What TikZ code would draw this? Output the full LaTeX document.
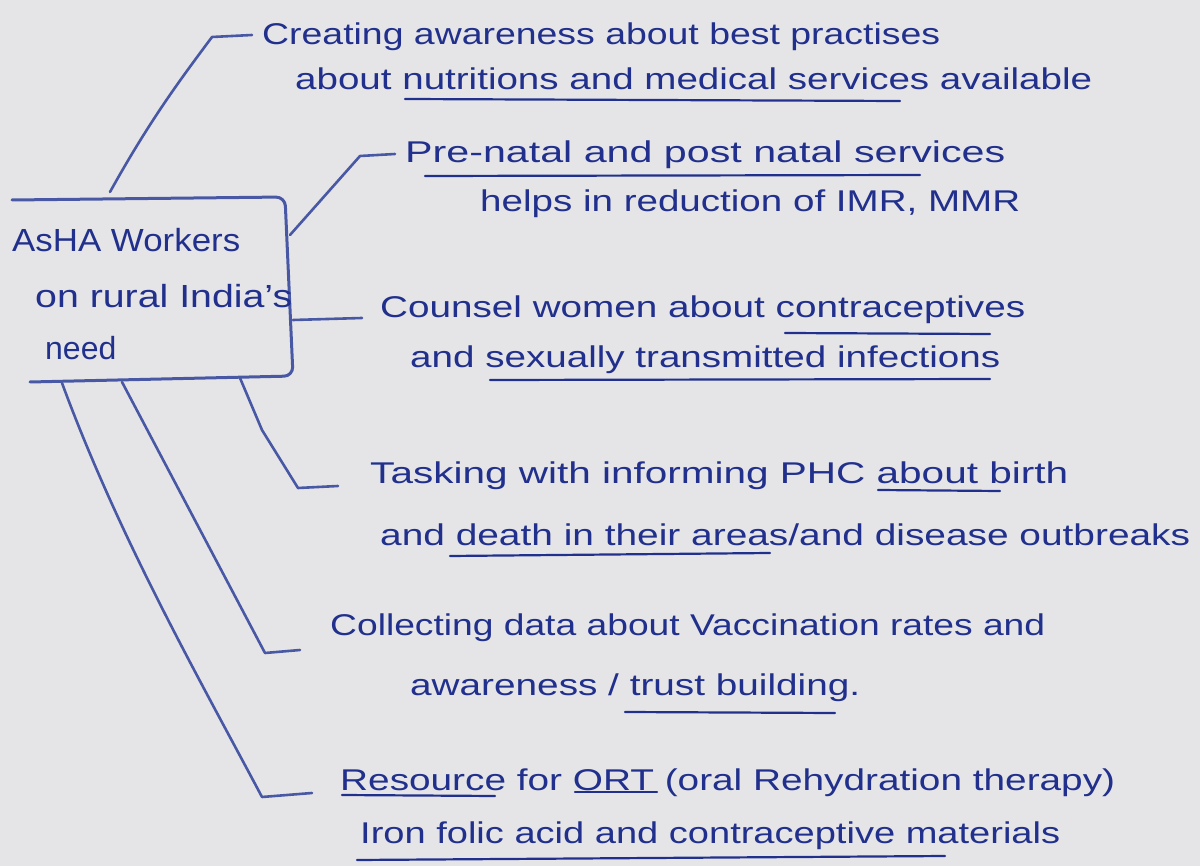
\documentclass[tikz,border=0pt]{standalone}
\usepackage{fontspec}
\setmainfont{Liberation Sans}
\usepackage{graphicx}
\definecolor{paper}{RGB}{229,229,231}
\definecolor{ink}{RGB}{33,48,140}
\definecolor{pen}{RGB}{72,88,165}
\newcommand{\fitw}[2]{\resizebox{#1}{\height}{#2}}
\tikzset{
  txt/.style={anchor=base west, inner sep=0pt, text=ink, font=\fontsize{30}{34}\selectfont},
  boxtxt/.style={txt, font=\fontsize{32}{36}\selectfont},
  link/.style={draw=pen, line width=2.6pt, line cap=round, line join=round},
  uline/.style={draw=ink, line width=2.2pt, line cap=round},
  boxline/.style={draw=pen, line width=3pt, line cap=round, line join=round, rounded corners=9pt}
}
\begin{document}
\begin{tikzpicture}[x=1pt,y=-1pt]
\useasboundingbox (0,0) rectangle (1200,866);
\fill[paper] (0,0) rectangle (1200,866);

% central box (open on the left)
\draw[boxline] (12,200) -- (285,197) -- (293,376) -- (30,382);
\node[boxtxt] (b1) at (12,252) {\fitw{228pt}{AsHA Workers}};
\node[boxtxt] (b2) at (35,308) {\fitw{257pt}{on rural India's}};
\node[boxtxt] (b3) at (45,360) {need};

% text lines
\node[txt] (t1a) at (262,45) {\fitw{678pt}{Creating awareness about best practises}};
\node[txt] (t1b) at (295,90) {\fitw{797pt}{about nutritions and medical services available}};
\node[txt] (t2a) at (405,163) {\fitw{600pt}{Pre-natal and post natal services}};
\node[txt] (t2b) at (480,212) {\fitw{540pt}{helps in reduction of IMR, MMR}};
\node[txt] (t3a) at (380,318) {\fitw{645pt}{Counsel women about contraceptives}};
\node[txt] (t3b) at (410,368) {\fitw{590pt}{and sexually transmitted infections}};
\node[txt] (t4a) at (370,483) {\fitw{698pt}{Tasking with informing PHC about birth}};
\node[txt] (t4b) at (380,545) {\fitw{810pt}{and death in their areas/and disease outbreaks}};
\node[txt] (t5a) at (330,635) {\fitw{715pt}{Collecting data about Vaccination rates and}};
\node[txt] (t5b) at (410,695) {\fitw{450pt}{awareness / trust building.}};
\node[txt] (t6a) at (340,790) {\fitw{775pt}{Resource for ORT (oral Rehydration therapy)}};
\node[txt] (t6b) at (360,843) {\fitw{700pt}{Iron folic acid and contraceptive materials}};

% underlines
\draw[uline] (405,99) -- (900,101);
\draw[uline] (425,176) -- (920,175);
\draw[uline] (785,333) -- (990,334);
\draw[uline] (490,380) -- (990,379);
\draw[uline] (878,490) -- (1000,491);
\draw[uline] (450,556) -- (770,553);
\draw[uline] (625,712) -- (835,713);
\draw[uline] (342,795) -- (495,796);
\draw[uline] (575,792) -- (657,792);
\draw[uline] (357,860) -- (945,856);

% connector coordinates
\coordinate (s1) at (110,192);
\coordinate (k1) at (212,37);
\coordinate (e1) at (252,35);
\coordinate (s2) at (290,235);
\coordinate (k2) at (360,156);
\coordinate (e2) at (395,154);
\coordinate (s3) at (293,320);
\coordinate (e3) at (362,318);
\coordinate (s4) at (240,378);
\coordinate (k4) at (298,488);
\coordinate (e4) at (338,486);
\coordinate (s5) at (122,382);
\coordinate (k5) at (265,653);
\coordinate (e5) at (300,650);
\coordinate (s6) at (62,383);
\coordinate (k6) at (262,797);
\coordinate (e6) at (312,793);

\draw[link] (s1) .. controls (150,120) and (180,80) .. (k1) -- (e1);
\draw[link] (s2) -- (k2) -- (e2);
\draw[link] (s3) -- (e3);
\draw[link] (s4) -- (262,430) -- (k4) -- (e4);
\draw[link] (s5) -- (k5) -- (e5);
\draw[link] (s6) .. controls (120,540) and (200,680) .. (k6) -- (e6);
\end{tikzpicture}
\end{document}
